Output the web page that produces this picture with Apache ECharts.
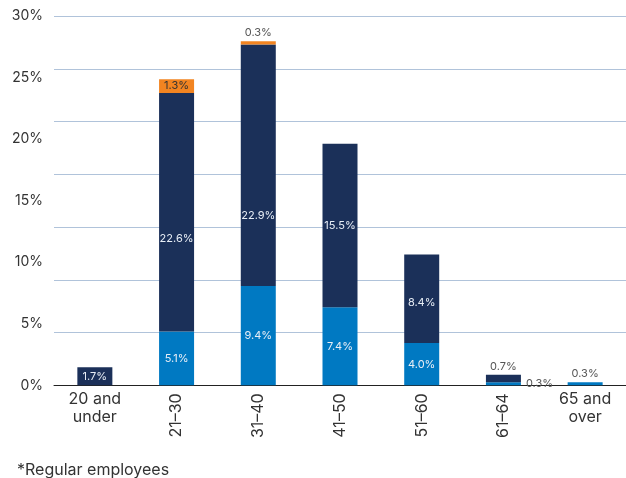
<!DOCTYPE html>
<html>
<head>
<meta charset="utf-8">
<script src="https://cdn.jsdelivr.net/npm/echarts@6/dist/echarts.min.js"></script>
<style>html,body{margin:0;padding:0;background:#fff}#c{width:626px;height:478px}</style>
</head>
<body>
<div id="c"></div>
<script>
var categories = ['20 and\nunder', '21–30', '31–40', '41–50', '51–60', '61–64', '65 and\nover'];
var lightValues = [0, 5.1, 9.4, 7.4, 4.0, 0.3, 0.3];
var navyValues  = [1.7, 22.6, 22.9, 15.5, 8.4, 0.7, 0];
var orangeValues = [0, 1.3, 0.3, 0, 0, 0, 0];
var tickLabels = ['0%', '5%', '10%', '15%', '20%', '25%', '30%'];
var footnote = '*Regular employees';

// label placement (style config)
var lightLabelPos = ['inside', 'inside', 'inside', 'inside', 'inside', 'right', 'top'];
var navyLabelPos  = ['inside', 'inside', 'inside', 'inside', 'inside', 'top', 'inside'];
var orangeLabelPos = ['inside', 'inside', 'top', 'inside', 'inside', 'inside', 'inside'];
var navyLabelShift = [0, 26, 50, 0, 4, 0, 0];

var FONT = 'Inter';
function fmt(p) { return p.value ? p.value.toFixed(1) + '%' : ''; }
function items(vals, pos, insideColor, shift) {
  return vals.map(function (v, i) {
    var outside = pos[i] !== 'inside';
    return {
      value: v,
      label: {
        position: pos[i],
        color: outside ? '#555' : insideColor,
        distance: pos[i] === 'right' ? 5 : 3,
        offset: [0, shift ? shift[i] : 0]
      }
    };
  });
}
var baseLabel = { show: true, formatter: fmt, fontSize: 11, fontFamily: FONT };

var chart = echarts.init(document.getElementById('c'));
chart.setOption({
  animation: false,
  textStyle: { fontFamily: FONT },
  title: {
    text: footnote, left: 12, top: 457,
    textStyle: { fontSize: 16, fontWeight: 'normal', color: '#333', fontFamily: FONT }
  },
  grid: { left: 54, top: 16, width: 583, height: 369.3 },
  xAxis: [
    {
      type: 'category', data: categories, position: 'bottom',
      axisLine: { lineStyle: { color: '#222', width: 1 } },
      axisTick: { show: false },
      axisLabel: {
        interval: 0, fontSize: 16, color: '#333', lineHeight: 18, margin: 5,
        formatter: function (v, i) { return (i === 0 || i === categories.length - 1) ? v : ''; }
      }
    },
    {
      type: 'category', data: categories, position: 'bottom', gridIndex: 0,
      axisLine: { show: false }, axisTick: { show: false },
      axisLabel: {
        interval: 0, fontSize: 16, color: '#333', rotate: 90, margin: 8,
        formatter: function (v, i) { return (i === 0 || i === categories.length - 1) ? '' : v; }
      }
    }
  ],
  yAxis: [
    {
      type: 'value', min: 0, max: 35, interval: 5, position: 'left',
      axisLabel: { show: false }, axisLine: { show: false }, axisTick: { show: false },
      splitLine: { lineStyle: { color: '#b0c3da', width: 1 } }
    },
    {
      type: 'value', min: 0, max: 30, interval: 5, position: 'left', offset: 0,
      axisLine: { show: false }, axisTick: { show: false }, splitLine: { show: false },
      axisLabel: {
        fontSize: 14, color: '#333', margin: 11,
        formatter: function (v) { return tickLabels[Math.round(v / 5)]; }
      }
    }
  ],
  series: [
    {
      type: 'bar', stack: 'a', barWidth: 35, xAxisIndex: 0, yAxisIndex: 0,
      itemStyle: { color: '#0079c2' },
      label: baseLabel,
      data: items(lightValues, lightLabelPos, '#e8eef6')
    },
    {
      type: 'bar', stack: 'a', barWidth: 35, xAxisIndex: 0, yAxisIndex: 0,
      itemStyle: { color: '#1b3059' },
      label: baseLabel,
      data: items(navyValues, navyLabelPos, '#e8eef6', navyLabelShift)
    },
    {
      type: 'bar', stack: 'a', barWidth: 35, xAxisIndex: 0, yAxisIndex: 0,
      itemStyle: { color: '#f28421' },
      label: baseLabel,
      data: items(orangeValues, orangeLabelPos, '#333')
    }
  ]
});
</script>
</body>
</html>
